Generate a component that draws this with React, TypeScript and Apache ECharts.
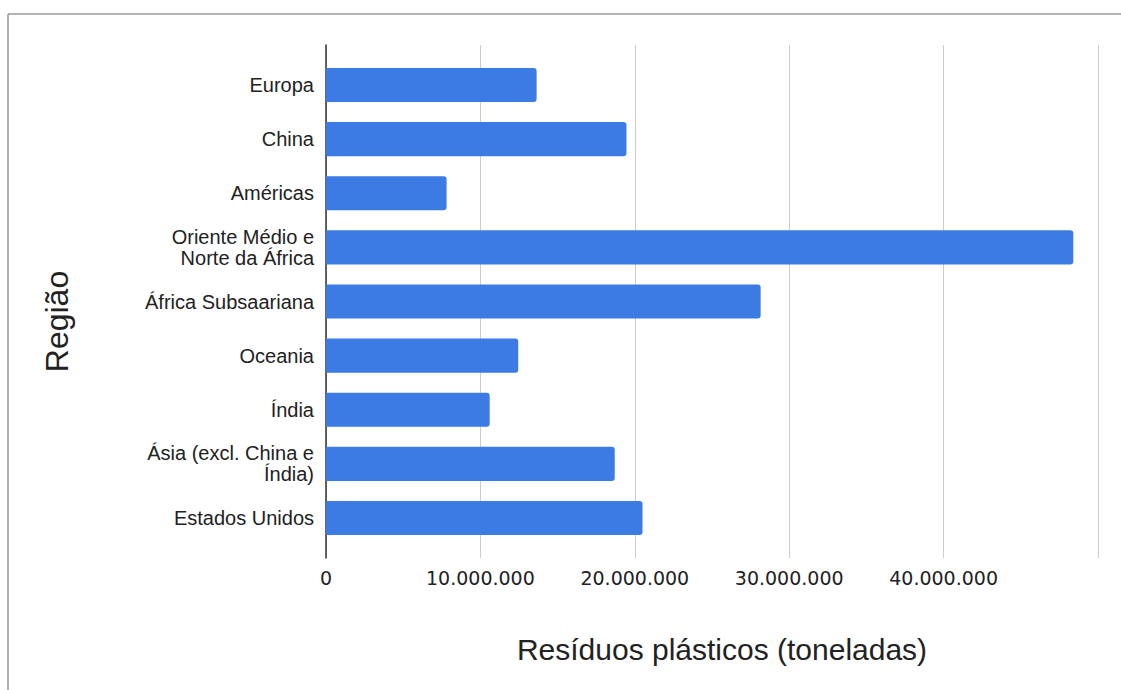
import React, { useEffect, useRef } from "react";
import * as echarts from "echarts";

const categories = [
  "Europa",
  "China",
  "Américas",
  "Oriente Médio e\nNorte da África",
  "África Subsaariana",
  "Oceania",
  "Índia",
  "Ásia (excl. China e\nÍndia)",
  "Estados Unidos",
];
const values = [13640000, 19460000, 7810000, 48400000, 28150000, 12450000, 10600000, 18700000, 20500000];
const xTicks = [0, 10000000, 20000000, 30000000, 40000000, 50000000];
const xTitle = "Resíduos plásticos (toneladas)";
const yTitle = "Região";

const fmt = (v: number) => {
  if (v === 0) return "0";
  if (v >= 50000000) return "";
  return String(Math.round(v)).replace(/\B(?=(\d{3})+(?!\d))/g, ".");
};

export default function App() {
  const ref = useRef<HTMLDivElement>(null);
  useEffect(() => {
    document.body.style.margin = "0";
    const chart = echarts.init(ref.current!, null, { renderer: "svg" });
    const font = "Arial, 'Liberation Sans', sans-serif";
    chart.setOption({
      animation: false,
      backgroundColor: "#ffffff",
      textStyle: { fontFamily: font },
      grid: [
        { left: 326, right: 23, top: 45, bottom: 132, containLabel: false },
        { left: 326, right: 23, top: 58, bottom: 145, containLabel: false },
      ],
      xAxis: [
        {
          type: "value",
          gridIndex: 0,
          min: xTicks[0],
          max: xTicks[xTicks.length - 1],
          interval: 10000000,
          axisLine: { show: false },
          axisTick: { show: false },
          splitLine: { show: true, lineStyle: { color: "#cccccc", width: 1 } },
          axisLabel: { formatter: fmt, color: "#222222", fontSize: 19, margin: 10, fontFamily: "'DejaVu Sans', sans-serif" },
          name: xTitle,
          nameLocation: "middle",
          nameGap: 76,
          nameTextStyle: { fontSize: 30, color: "#222222", fontFamily: font, padding: [0, 0, 0, 20] },
        },
        {
          type: "value",
          gridIndex: 1,
          min: xTicks[0],
          max: xTicks[xTicks.length - 1],
          show: false,
        },
      ],
      yAxis: [
        {
          type: "value",
          gridIndex: 0,
          min: 0,
          max: 1,
          axisLine: { show: true, onZero: false, lineStyle: { color: "#333333", width: 1.5 } },
          axisTick: { show: false },
          axisLabel: { show: false },
          splitLine: { show: false },
        },
        {
          type: "category",
          gridIndex: 1,
          data: categories,
          inverse: true,
          axisLine: { show: false },
          axisTick: { show: false },
          splitLine: { show: false },
          axisLabel: { color: "#222222", fontSize: 20, margin: 12, lineHeight: 21, fontFamily: font },
          name: yTitle,
          nameLocation: "middle",
          nameGap: 253,
          nameRotate: 90,
          nameTextStyle: { fontSize: 32, color: "#222222", fontFamily: font, padding: [0, 40, 0, 0] },
        },
      ],
      series: [
        {
          type: "bar",
          xAxisIndex: 1,
          yAxisIndex: 1,
          data: values,
          barCategoryGap: "37%",
          itemStyle: { color: "#3c7ae4", borderRadius: [0, 3, 3, 0] },
        },
      ],
      graphic: [
        { type: "line", shape: { x1: 8, y1: 14, x2: 1121, y2: 14 }, style: { stroke: "#9a9a9a", lineWidth: 1.5 } },
        { type: "line", shape: { x1: 8, y1: 14, x2: 8, y2: 690 }, style: { stroke: "#9a9a9a", lineWidth: 1.5 } },
      ],
    });
    return () => chart.dispose();
  }, []);
  return <div ref={ref} style={{ width: 1121, height: 690, position: "absolute", left: 0, top: 0 }} />;
}
